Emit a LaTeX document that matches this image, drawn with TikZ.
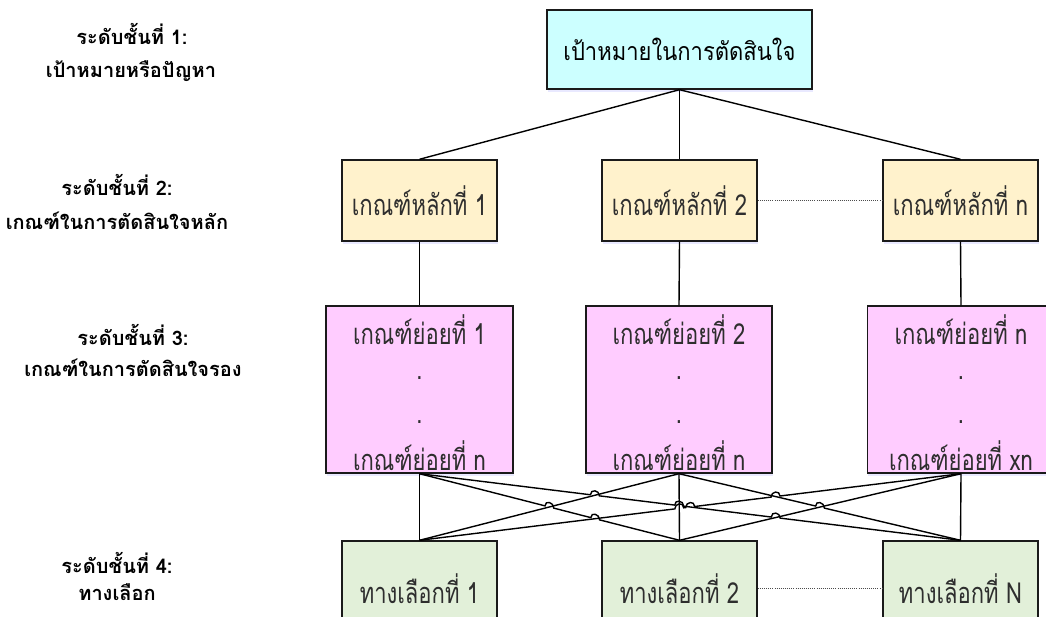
\documentclass[tikz,border=0pt]{standalone}
\usepackage{fontspec}
\newfontfamily\thai[Script=Thai]{Loma}
\newfontfamily\thaig[Script=Thai,FakeStretch=0.88]{Loma}
\newfontfamily\thaic[Script=Thai,FakeStretch=0.76]{Loma}
\usetikzlibrary{calc,shadows}
\definecolor{cyanbox}{HTML}{CCFFFF}
\definecolor{yelbox}{HTML}{FFF2CC}
\definecolor{pinkbox}{HTML}{FFCCFF}
\definecolor{grnbox}{HTML}{E2F0D9}
\definecolor{edgec}{HTML}{1A1A1A}
\definecolor{txtc}{HTML}{2E2E2E}
\tikzset{
 box/.style={draw=edgec,line width=1.4pt,inner sep=0pt,
   drop shadow={shadow xshift=0.5pt,shadow yshift=-3pt,fill=blue!25!white,opacity=0.35}},
 conn/.style={draw=black,line width=1.4pt},
 dotl/.style={draw=gray!60!black,line width=1pt,dash pattern=on 1pt off 1.1pt},
 lvl/.style={font=\thai\bfseries\fontsize{20}{24}\selectfont,text=black,inner sep=0pt},
 btxt/.style={font=\thaic\fontsize{29}{33}\selectfont,text=txtc,inner sep=0pt},
 hop/.style={out=90,in=90,looseness=1.7},
}
\newcommand{\hr}{4.5pt}
\begin{document}
\begin{tikzpicture}[x=1pt,y=-1pt]
\useasboundingbox (0,0) rectangle (1046,617);
\clip (0,0) rectangle (1046,617);

% level labels
\node[lvl] (l1a) at (132,34) {ระดับชั้นที่ 1:};
\node[lvl] (l1b) at (131,71) {เป้าหมายหรือปัญหา};
\node[lvl] (l2a) at (117,185) {ระดับชั้นที่ 2:};
\node[lvl] (l2b) at (117,221) {เกณฑ์ในการตัดสินใจหลัก};
\node[lvl] (l3a) at (133,335) {ระดับชั้นที่ 3:};
\node[lvl] (l3b) at (133,368) {เกณฑ์ในการตัดสินใจรอง};
\node[lvl] (l4a) at (117,563) {ระดับชั้นที่ 4:};
\node[lvl] (l4b) at (117,592) {ทางเลือก};

% goal
\node[box,fill=cyanbox,minimum width=265pt,minimum height=79pt,
      font=\thaig\fontsize{25}{29}\selectfont] (goal) at (679.5,49.5) {เป้าหมายในการตัดสินใจ};

% main criteria
\node[box,fill=yelbox,minimum width=155pt,minimum height=81pt,btxt] (m1) at (419.5,200.5) {เกณฑ์หลักที่ 1};
\node[box,fill=yelbox,minimum width=155pt,minimum height=81pt,btxt] (m2) at (679.5,200.5) {เกณฑ์หลักที่ 2};
\node[box,fill=yelbox,minimum width=155pt,minimum height=81pt,btxt] (m3) at (960.5,200.5) {เกณฑ์หลักที่ n};

% sub criteria
\node[box,fill=pinkbox,minimum width=187pt,minimum height=167pt] (s1) at (419.5,389.5) {};
\node[box,fill=pinkbox,minimum width=186pt,minimum height=167pt] (s2) at (679,389.5) {};
\node[box,fill=pinkbox,minimum width=187pt,minimum height=167pt] (s3) at (961,389.5) {};
\foreach \n/\x/\a/\b in {1/419.5/1/n, 2/679/2/n, 3/961/n/xn}{
  \node[btxt] (s\n t) at (\x,330) {เกณฑ์ย่อยที่ \a};
  \node[btxt] (s\n d) at (\x,378) {.};
  \node[btxt] (s\n e) at (\x,422) {.};
  \node[btxt] (s\n b) at (\x,456) {เกณฑ์ย่อยที่ \b};
}

% alternatives
\node[box,fill=grnbox,minimum width=155pt,minimum height=95pt,btxt] (a1) at (419.5,588.5) {ทางเลือกที่ 1};
\node[box,fill=grnbox,minimum width=155pt,minimum height=95pt,btxt] (a2) at (679.5,588.5) {ทางเลือกที่ 2};
\node[box,fill=grnbox,minimum width=155pt,minimum height=95pt,btxt] (a3) at (960.5,588.5) {ทางเลือกที่ N};

% connectors level 1-2-3
\draw[conn] (goal.south) -- (m1.north);
\draw[conn] (goal.south) -- (m2.north);
\draw[conn] (goal.south) -- (m3.north);
\draw[conn] (m1.south) -- (s1.north);
\draw[conn] (m2.south) -- (s2.north);
\draw[conn] (m3.south) -- (s3.north);
\draw[dotl] (m2.east) -- (m3.west);
\draw[dotl] (a2.east) -- (a3.west);

% level 3-4 lattice
\coordinate (p1) at (s1.south);
\coordinate (p2) at (s2.south);
\coordinate (p3) at (s3.south);
\coordinate (q1) at (a1.north);
\coordinate (q2) at (a2.north);
\coordinate (q3) at (a3.north);
\draw[conn] (p1) -- (q1);
\draw[conn] (p2) -- (q2);
\draw[conn] (p3) -- (q3);

\coordinate (xAC) at (intersection of p1--q2 and p2--q1);
\coordinate (xAE) at (intersection of p1--q2 and p3--q1);
\coordinate (xBC) at (intersection of p1--q3 and p2--q1);
\coordinate (xBV) at (intersection of p1--q3 and p2--q2);
\coordinate (xBF) at (intersection of p1--q3 and p3--q2);
\coordinate (xED) at (intersection of p3--q1 and p2--q3);
\coordinate (xEB) at (intersection of p3--q1 and p1--q3);
\coordinate (xEV) at (intersection of p3--q1 and p2--q2);
\coordinate (xDF) at (intersection of p2--q3 and p3--q2);

% A: p1 -> q2
\draw[conn] (p1) -- ($(xAC)!\hr!(p1)$) to[hop] ($(xAC)!\hr!(q2)$)
  -- ($(xAE)!\hr!(p1)$) to[hop] ($(xAE)!\hr!(q2)$) -- (q2);
% B: p1 -> q3
\draw[conn] (p1) -- ($(xBC)!\hr!(p1)$) to[hop] ($(xBC)!\hr!(q3)$)
  -- ($(xBV)!\hr!(p1)$) to[hop] ($(xBV)!\hr!(q3)$)
  -- ($(xBF)!\hr!(p1)$) to[hop] ($(xBF)!\hr!(q3)$) -- (q3);
% C: p2 -> q1
\draw[conn] (p2) -- (q1);
% D: p2 -> q3
\draw[conn] (p2) -- ($(xDF)!\hr!(p2)$) to[hop] ($(xDF)!\hr!(q3)$) -- (q3);
% E: p3 -> q1
\draw[conn] (p3) -- ($(xED)!\hr!(p3)$) to[hop] ($(xED)!\hr!(q1)$)
  -- ($(xEB)!\hr!(p3)$) to[hop] ($(xEB)!\hr!(q1)$)
  -- ($(xEV)!\hr!(p3)$) to[hop] ($(xEV)!\hr!(q1)$) -- (q1);
% F: p3 -> q2
\draw[conn] (p3) -- (q2);
\end{tikzpicture}
\end{document}
